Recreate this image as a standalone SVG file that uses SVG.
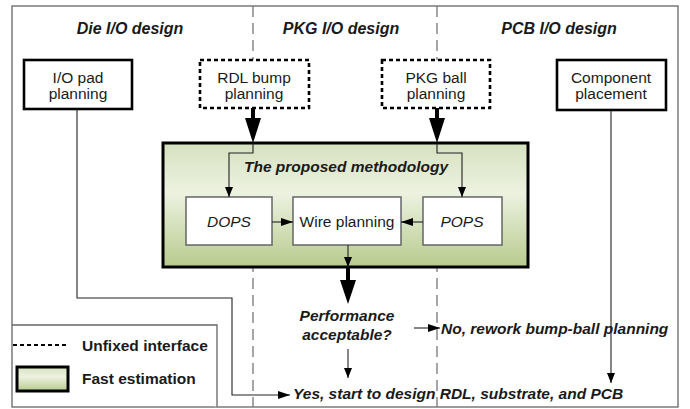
<svg xmlns="http://www.w3.org/2000/svg" width="690" height="409" viewBox="0 0 690 409">
  <defs>
    <linearGradient id="greenFill" x1="0" y1="0" x2="0" y2="1">
      <stop offset="0" stop-color="#d6e1bf"/>
      <stop offset="0.4" stop-color="#edf2e1"/>
      <stop offset="1" stop-color="#b7cb8d"/>
    </linearGradient>
    <marker id="arrowThin" viewBox="0 0 10 8" refX="10" refY="4" markerWidth="10" markerHeight="8" markerUnits="userSpaceOnUse" orient="auto">
      <path d="M0,0 L10,4 L0,8 Z" fill="#000"/>
    </marker>
    <marker id="arrowMid" viewBox="0 0 12 8" refX="12" refY="4" markerWidth="12" markerHeight="8" markerUnits="userSpaceOnUse" orient="auto">
      <path d="M0,0 L12,4 L0,8 Z" fill="#000"/>
    </marker>
  </defs>
  <style>
    .frame { fill: #fff; stroke: #666; stroke-width: 1.3; }
    .lane { stroke: #777; stroke-width: 1.3; stroke-dasharray: 11 6; fill: none; }
    .hdr { font-family: "Liberation Sans", Arial, sans-serif; font-size: 16px; font-weight: bold; font-style: italic; fill: #1a1a1a; text-anchor: middle; }
    .solid { fill: #fff; stroke: #000; stroke-width: 2.6; }
    .dashed { fill: #fff; stroke: #000; stroke-width: 2.6; stroke-dasharray: 4 3; }
    .inner { fill: #fff; stroke: #666; stroke-width: 1.5; }
    .green { fill: url(#greenFill); stroke: #000; stroke-width: 3; }
    .lbl { font-family: "Liberation Sans", Arial, sans-serif; font-size: 15.5px; fill: #1a1a1a; text-anchor: middle; }
    .it { font-style: italic; }
    .bi { font-family: "Liberation Sans", Arial, sans-serif; font-size: 15.5px; font-weight: bold; font-style: italic; fill: #1a1a1a; }
    .leg { font-family: "Liberation Sans", Arial, sans-serif; font-size: 15.5px; font-weight: bold; fill: #1a1a1a; }
    .wire { fill: none; stroke: #222; stroke-width: 1.1; }
    .thick { fill: #000; }
  </style>

  <!-- outer frame -->
  <rect class="frame" x="12" y="6" width="666" height="401"/>

  <!-- swim-lane separators -->
  <g id="lanes">
    <line class="lane" x1="253" y1="6" x2="253" y2="407"/>
    <line class="lane" x1="437" y1="6" x2="437" y2="407"/>
  </g>

  <!-- lane headers -->
  <g id="headers">
    <text class="hdr" x="130" y="34">Die I/O design</text>
    <text class="hdr" x="341" y="34">PKG I/O design</text>
    <text class="hdr" x="559" y="34">PCB I/O design</text>
  </g>

  <!-- proposed methodology container -->
  <g id="methodology">
    <rect class="green" x="163" y="143" width="365" height="124"/>
    <text class="bi" x="346" y="172" text-anchor="middle" font-size="16.5">The proposed methodology</text>
  </g>

  <g id="io-pad">
    <rect class="solid" x="24" y="60" width="108" height="49"/>
    <text class="lbl" x="78" y="83">I/O pad</text>
    <text class="lbl" x="78" y="99">planning</text>
  </g>

  <g id="rdl-bump">
    <rect class="dashed" x="200" y="60" width="109" height="48"/>
    <text class="lbl" x="254" y="83">RDL bump</text>
    <text class="lbl" x="254" y="99">planning</text>
  </g>

  <g id="pkg-ball">
    <rect class="dashed" x="382" y="60" width="108" height="48"/>
    <text class="lbl" x="436" y="83">PKG ball</text>
    <text class="lbl" x="436" y="99">planning</text>
  </g>

  <g id="component">
    <rect class="solid" x="557" y="60" width="109" height="50"/>
    <text class="lbl" x="611" y="83">Component</text>
    <text class="lbl" x="611" y="99">placement</text>
  </g>

  <g id="dops">
    <rect class="inner" x="186" y="197" width="86" height="48"/>
    <text class="lbl it" x="229" y="227" font-size="16">DOPS</text>
  </g>

  <g id="wire-planning">
    <rect class="inner" x="293" y="197" width="108" height="48"/>
    <text class="lbl" x="347" y="227" font-size="16">Wire planning</text>
  </g>

  <g id="pops">
    <rect class="inner" x="423" y="197" width="79" height="48"/>
    <text class="lbl it" x="462" y="227" font-size="16">POPS</text>
  </g>

  <g id="decision">
    <text class="bi" x="347" y="321" text-anchor="middle">Performance</text>
    <text class="bi" x="347" y="340" text-anchor="middle">acceptable?</text>
  </g>

  <g id="outcome-no">
    <text class="bi" x="441" y="334">No, rework bump-ball planning</text>
  </g>

  <g id="outcome-yes">
    <text class="bi" x="293" y="399">Yes, start to design RDL, substrate, and PCB</text>
  </g>

  <!-- legend -->
  <g id="legend">
    <path d="M12,325 H217 V407" fill="#fff" stroke="#666" stroke-width="1.3"/>
    <rect x="13" y="326" width="203" height="80" fill="#fff"/>
    <line x1="13" y1="345" x2="68" y2="345" stroke="#000" stroke-width="2" stroke-dasharray="4 3"/>
    <text class="leg" x="82" y="351">Unfixed interface</text>
    <rect class="green" x="17" y="367" width="51" height="24" stroke-width="2.6"/>
    <text class="leg" x="82" y="384">Fast estimation</text>
  </g>

  <!-- connectors -->
  <g id="connectors">
    <!-- bump / ball plans into the methodology -->
    <path class="thick" d="M251,108 H255 V118 H261 L253,143 L245,118 H251 Z"/>
    <path class="thick" d="M435,108 H439 V118 H445 L437,143 L429,118 H435 Z"/>
    <path class="wire" d="M253,143 V153 H229 V197" marker-end="url(#arrowThin)"/>
    <path class="wire" d="M437,143 V153 H462 V197" marker-end="url(#arrowThin)"/>
    <!-- estimators into wire planning -->
    <path class="wire" d="M272,222 H293" marker-end="url(#arrowMid)"/>
    <path class="wire" d="M423,222 H401" marker-end="url(#arrowMid)"/>
    <!-- wire planning out of the block -->
    <path class="wire" d="M348,245 V267" marker-end="url(#arrowThin)"/>
    <path class="thick" d="M346,267 H350 V280 H356 L348,304 L340,280 H346 Z"/>
    <!-- decision outcomes -->
    <path class="wire" d="M414,328 H440" marker-end="url(#arrowMid)"/>
    <path class="wire" d="M348,349 V378" marker-end="url(#arrowThin)"/>
    <!-- die pad planning route to final step -->
    <path class="wire" d="M77,109 V298 H232 V395 H290" marker-end="url(#arrowMid)"/>
    <!-- component placement down to final step -->
    <path class="wire" d="M611,110 V383" marker-end="url(#arrowThin)"/>
  </g>
</svg>
